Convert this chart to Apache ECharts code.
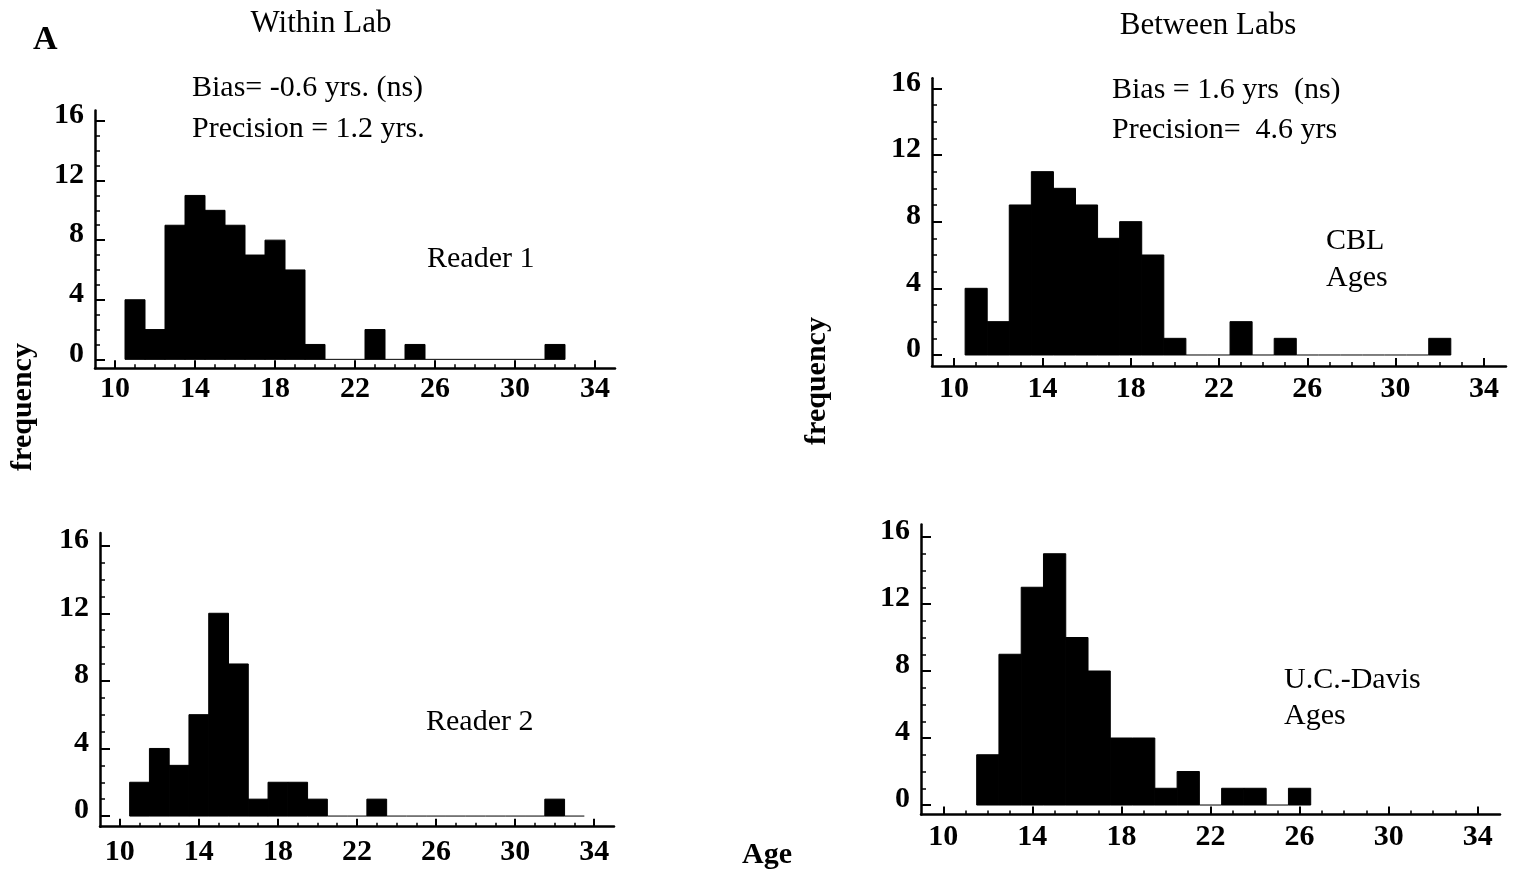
<!DOCTYPE html>
<html>
<head>
<meta charset="utf-8">
<script src="https://cdn.jsdelivr.net/npm/echarts@6/dist/echarts.min.js"></script>
<style>
html,body{margin:0;padding:0;background:#fff;}
#chart{width:1520px;height:871px;}
</style>
</head>
<body>
<div id="chart"></div>
<script>
// ---- data (age bins of 1 year, centred on the integer age) ----
const reader1Ages   = [11,12,13,14,15,16,17,18,19,20,21,22,23,24,25,26,27,28,29,30,31,32];
const reader1Counts = [ 4, 2, 9,11,10, 9, 7, 8, 6, 1, 0, 0, 2, 0, 1, 0, 0, 0, 0, 0, 0, 1];

const reader2Ages   = [11,12,13,14,15,16,17,18,19,20,21,22,23,24,25,26,27,28,29,30,31,32,33];
const reader2Counts = [ 2, 4, 3, 6,12, 9, 1, 2, 2, 1, 0, 0, 1, 0, 0, 0, 0, 0, 0, 0, 0, 1, 0];

const cblAges   = [11,12,13,14,15,16,17,18,19,20,21,22,23,24,25,26,27,28,29,30,31,32];
const cblCounts = [ 4, 2, 9,11,10, 9, 7, 8, 6, 1, 0, 0, 2, 0, 1, 0, 0, 0, 0, 0, 0, 1];

const davisAges   = [12,13,14,15,16,17,18,19,20,21,22,23,24,25,26];
const davisCounts = [ 3, 9,13,15,10, 8, 4, 4, 1, 2, 0, 1, 1, 0, 1];

const xTickLabels = [10,14,18,22,26,30,34];
const yTickLabels = [0,4,8,12,16];
const xMinorTicks = [10,11,12,13,14,15,16,17,18,19,20,21,22,23,24,25,26,27,28,29,30,31,32,33,34];
const yMinorTicks = [0,1,2,3,4,5,6,7,8,9,10,11,12,13,14,15,16];

const FONT = '"Liberation Serif", "DejaVu Serif", serif';

// panel layout (pixels)
const panels = [
  {ages: reader1Ages, counts: reader1Counts, left: 95,  top: 110.5, width: 520, height: 257.8, ymin: -0.6,  ymax: 16.7,  xMargin: 6},
  {ages: cblAges,     counts: cblCounts,     left: 932, top: 78.3,  width: 574, height: 287.7, ymin: -0.66, ymax: 16.6,  xMargin: 8},
  {ages: reader2Ages, counts: reader2Counts, left: 100, top: 533,   width: 514, height: 293.7, ymin: -0.63, ymax: 16.75, xMargin: 11},
  {ages: davisAges,   counts: davisCounts,   left: 921, top: 524.6, width: 579, height: 289.8, ymin: -0.56, ymax: 16.74, xMargin: 8}
];

function renderHist(params, api) {
  const x = api.value(0), v = api.value(1);
  const pL = api.coord([x - 0.5, 0]);
  const pR = api.coord([x + 0.5, v]);
  if (v === 0) {
    return {type: 'line', shape: {x1: pL[0], y1: pL[1], x2: pR[0], y2: pL[1]},
            style: {stroke: '#000', lineWidth: 1}};
  }
  return {type: 'rect', shape: {x: pL[0], y: pR[1], width: pR[0] - pL[0], height: pL[1] - pR[1]},
          style: {fill: '#000', stroke: '#000', lineWidth: 1}};
}

const grid = [], xAxis = [], yAxis = [], series = [];
panels.forEach((p, i) => {
  grid.push({left: p.left, top: p.top, width: p.width, height: p.height, containLabel: false});
  xAxis.push({
    type: 'value', gridIndex: i, min: 9, max: 35, position: 'bottom',
    axisLine: {show: true, onZero: false, lineStyle: {color: '#000', width: 2.5}},
    axisTick: {show: true, inside: true, length: 8, customValues: xTickLabels, lineStyle: {color: '#000', width: 2}},
    axisLabel: {customValues: xTickLabels, color: '#000', fontFamily: FONT, fontWeight: 'bold', fontSize: 30, margin: p.xMargin},
    splitLine: {show: false}
  });
  xAxis.push({
    type: 'value', gridIndex: i, min: 9, max: 35, position: 'bottom',
    axisLine: {show: false, onZero: false},
    axisTick: {show: true, inside: true, length: 4, customValues: xMinorTicks, lineStyle: {color: '#000', width: 1.5}},
    axisLabel: {show: false},
    splitLine: {show: false}
  });
  yAxis.push({
    type: 'value', gridIndex: i, min: p.ymin, max: p.ymax, position: 'left', offset: 0,
    axisLine: {show: true, onZero: false, lineStyle: {color: '#000', width: 2.5}},
    axisTick: {show: true, inside: true, length: 10, customValues: yTickLabels, lineStyle: {color: '#000', width: 2}},
    axisLabel: {customValues: yTickLabels, color: '#000', fontFamily: FONT, fontWeight: 'bold', fontSize: 30,
                margin: 11, verticalAlign: 'bottom', lineHeight: 11},
    splitLine: {show: false}
  });
  yAxis.push({
    type: 'value', gridIndex: i, min: p.ymin, max: p.ymax, position: 'left', offset: 0,
    axisLine: {show: false, onZero: false},
    axisTick: {show: true, inside: true, length: 5, customValues: yMinorTicks, lineStyle: {color: '#000', width: 1.5}},
    axisLabel: {show: false},
    splitLine: {show: false}
  });
  series.push({
    type: 'custom', xAxisIndex: 2 * i, yAxisIndex: 2 * i,
    renderItem: renderHist, silent: true,
    data: p.ages.map((a, k) => [a, p.counts[k]])
  });
});

function txt(text, x, y, opts) {
  opts = opts || {};
  return {
    type: 'text', x: x, y: y, rotation: opts.rotation || 0,
    style: {text: text, fill: '#000', font: (opts.bold ? 'bold ' : '') + (opts.size || 30) + 'px ' + FONT,
            align: opts.align || 'left', verticalAlign: 'middle'}
  };
}

const graphic = [
  txt('A', 33, 40, {bold: true, size: 34}),
  txt('Within Lab', 321, 24, {align: 'center', size: 31}),
  txt('Between Labs', 1208, 26, {align: 'center', size: 31}),
  txt('Bias= -0.6 yrs. (ns)', 192, 88),
  txt('Precision = 1.2 yrs.', 192, 129),
  txt('Bias = 1.6 yrs  (ns)', 1112, 90),
  txt('Precision=  4.6 yrs', 1112, 130),
  txt('Reader 1', 427, 259),
  txt('CBL', 1326, 241),
  txt('Ages', 1326, 278),
  txt('Reader 2', 426, 722),
  txt('U.C.-Davis', 1284, 680),
  txt('Ages', 1284, 716),
  txt('frequency', 23, 407, {bold: true, align: 'center', rotation: Math.PI / 2}),
  txt('frequency', 817, 381, {bold: true, align: 'center', rotation: Math.PI / 2}),
  txt('Age', 767, 855, {bold: true, align: 'center'})
];

const chart = echarts.init(document.getElementById('chart'));
chart.setOption({
  backgroundColor: '#fff',
  animation: false,
  grid: grid, xAxis: xAxis, yAxis: yAxis, series: series, graphic: graphic
});
</script>
</body>
</html>
